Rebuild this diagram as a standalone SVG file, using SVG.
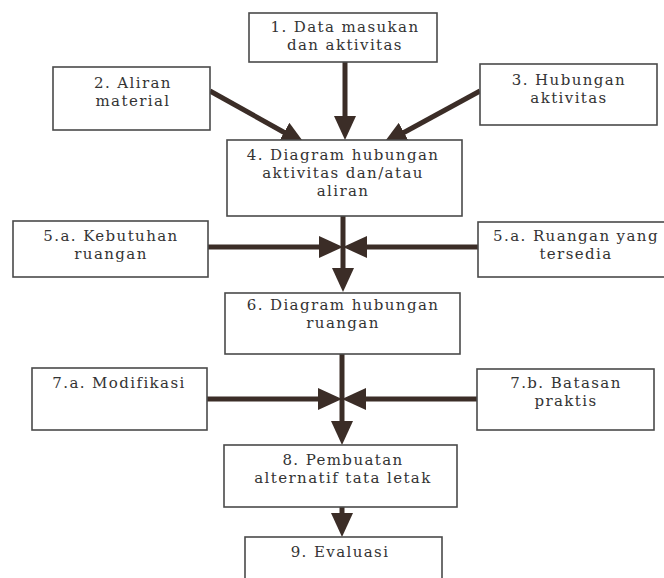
<svg xmlns="http://www.w3.org/2000/svg" width="664" height="578" viewBox="0 0 664 578">
<style>
.box{fill:#fff;stroke:#4a4a4a;stroke-width:1.6}
.lbl{font-family:"DejaVu Serif","Liberation Serif",serif;font-size:15px;letter-spacing:1.4px;fill:#333;text-anchor:middle}
.con{stroke:#3b2d27;stroke-width:5;fill:none;marker-end:url(#ah)}
</style>
<defs>
<marker id="ah" markerUnits="userSpaceOnUse" viewBox="0 0 24 22" markerWidth="24" markerHeight="22" refX="8" refY="11" orient="auto">
<path d="M0,0 L24,11 L0,22 z" fill="#3b2d27"/>
</marker>
</defs>
<rect width="664" height="578" fill="#fff"/>
<g id="connectors">
<line class="con" x1="345" y1="62" x2="345" y2="124"/>
<line class="con" x1="210" y1="91" x2="291" y2="136.3"/>
<line class="con" x1="480" y1="91" x2="397" y2="136.3"/>
<line class="con" x1="343" y1="216" x2="343" y2="276"/>
<line class="con" x1="208" y1="247" x2="327" y2="247"/>
<line class="con" x1="478" y1="247" x2="359" y2="247"/>
<line class="con" x1="342" y1="354" x2="342" y2="429"/>
<line class="con" x1="207" y1="399" x2="326" y2="399"/>
<line class="con" x1="477" y1="399" x2="358" y2="399"/>
<line class="con" x1="342" y1="507" x2="342" y2="521"/>
</g>
<g id="n1"><rect class="box" x="249" y="13" width="188" height="49"/><text class="lbl" x="345" y="32">1. Data masukan</text><text class="lbl" x="345" y="50">dan aktivitas</text></g>
<g id="n2"><rect class="box" x="53" y="67" width="157" height="63"/><text class="lbl" x="133" y="88">2. Aliran</text><text class="lbl" x="133" y="106">material</text></g>
<g id="n3"><rect class="box" x="480" y="64" width="177" height="61"/><text class="lbl" x="569" y="85">3. Hubungan</text><text class="lbl" x="569" y="103">aktivitas</text></g>
<g id="n4"><rect class="box" x="227" y="140" width="235" height="76"/><text class="lbl" x="343" y="160">4. Diagram hubungan</text><text class="lbl" x="343" y="178">aktivitas dan/atau</text><text class="lbl" x="343" y="196">aliran</text></g>
<g id="n5a"><rect class="box" x="13" y="221" width="195" height="56"/><text class="lbl" x="111" y="241">5.a. Kebutuhan</text><text class="lbl" x="111" y="259">ruangan</text></g>
<g id="n5b"><rect class="box" x="478" y="222" width="200" height="55"/><text class="lbl" x="576" y="241">5.a. Ruangan yang</text><text class="lbl" x="576" y="259">tersedia</text></g>
<g id="n6"><rect class="box" x="225" y="293" width="235" height="61"/><text class="lbl" x="343" y="310">6. Diagram hubungan</text><text class="lbl" x="343" y="328">ruangan</text></g>
<g id="n7a"><rect class="box" x="32" y="368" width="175" height="62"/><text class="lbl" x="119" y="388">7.a. Modifikasi</text></g>
<g id="n7b"><rect class="box" x="477" y="369" width="177" height="61"/><text class="lbl" x="566" y="388">7.b. Batasan</text><text class="lbl" x="566" y="406">praktis</text></g>
<g id="n8"><rect class="box" x="224" y="445" width="233" height="62"/><text class="lbl" x="343" y="465">8. Pembuatan</text><text class="lbl" x="343" y="483">alternatif tata letak</text></g>
<g id="n9"><rect class="box" x="245" y="537" width="197" height="60"/><text class="lbl" x="340" y="557">9. Evaluasi</text></g>
</svg>
